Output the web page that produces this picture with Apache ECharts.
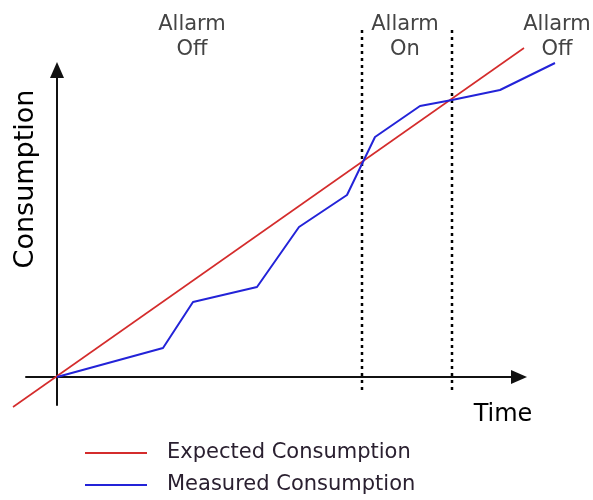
<!DOCTYPE html>
<html>
<head>
<meta charset="utf-8">
<script src="https://cdn.jsdelivr.net/npm/echarts@6/dist/echarts.min.js"></script>
<style>
  html, body { margin: 0; padding: 0; background: #fff; }
  #chart { width: 593px; height: 500px; }
</style>
</head>
<body>
<div id="chart"></div>
<script>
// data (arbitrary units, origin where the axes cross)
const expectedLine = [[-44, -30], [467, 329]]
const measuredLine = [
  [0, 0], [106, 29], [136, 75], [200, 90], [242, 150], [290, 182],
  [318, 240], [363, 271], [395, 277], [443, 287], [498, 314]
]
const alarmSwitchTimes = [305, 395]
const alarmLineRange = [-13, 347]
const phaseLabels = [
  [135, 340, 'Allarm\nOff'],
  [348, 340, 'Allarm\nOn'],
  [500, 340, 'Allarm\nOff']
]
const axisTitles = [
  [446, -38, 'Time', 0, 24],
  [-31, 198, 'Consumption', 90, 27]
]

const font = 'DejaVu Sans'
const chart = echarts.init(document.getElementById('chart'))

// grid 0 only draws the two arrowed axes, grid 1 spans the whole canvas
// with the same units so the lines can run past the axis ends
const hiddenAxis = {
  type: 'value',
  gridIndex: 1,
  axisLine: { show: false },
  axisTick: { show: false },
  axisLabel: { show: false },
  splitLine: { show: false }
}
const arrowAxis = {
  type: 'value',
  gridIndex: 0,
  axisLine: {
    show: true, onZero: true,
    symbol: ['none', 'triangle'], symbolSize: [14, 16],
    lineStyle: { color: '#111', width: 2 }
  },
  axisTick: { show: false },
  axisLabel: { show: false },
  splitLine: { show: false }
}

const alarmSeries = alarmSwitchTimes.map(t => ({
  type: 'line',
  xAxisIndex: 1,
  yAxisIndex: 1,
  data: [[t, alarmLineRange[0]], [t, alarmLineRange[1]]],
  symbol: 'none',
  silent: true,
  lineStyle: { color: '#000', width: 2.5, type: [3, 4] },
  z: 1
}))

const textSeries = (data, color, extra) => ({
  type: 'scatter',
  xAxisIndex: 1,
  yAxisIndex: 1,
  data: data,
  symbolSize: 0,
  silent: true,
  itemStyle: { opacity: 1 },
  label: {
    show: true,
    position: 'inside',
    formatter: p => p.value[2],
    fontFamily: font,
    color: color,
    opacity: 1,
    textBorderWidth: 0,
    align: 'center',
    ...extra
  }
})

chart.setOption({
  animation: false,
  grid: [
    { left: 26, right: 74, top: 70, bottom: 95 },
    { left: 0, right: 0, top: 0, bottom: 0 }
  ],
  legend: {
    data: ['Expected Consumption', 'Measured Consumption'],
    orient: 'vertical',
    left: 80,
    top: 434,
    height: 80,
    icon: 'rect',
    itemWidth: 62,
    itemHeight: 2,
    itemGap: 4,
    textStyle: {
      fontFamily: font, fontSize: 21, lineHeight: 28,
      color: '#2a2030', padding: [0, 0, 0, 15]
    }
  },
  xAxis: [
    { ...arrowAxis, min: -31, max: 462 },
    { ...hiddenAxis, min: -57, max: 536 }
  ],
  yAxis: [
    { ...arrowAxis, min: -28, max: 307 },
    { ...hiddenAxis, min: -123, max: 377 }
  ],
  series: [
    ...alarmSeries,
    {
      name: 'Expected Consumption',
      type: 'line',
      xAxisIndex: 1,
      yAxisIndex: 1,
      data: expectedLine,
      symbol: 'none',
      lineStyle: { color: '#d42c2c', width: 1.6 },
      itemStyle: { color: '#d42c2c' },
      z: 3
    },
    {
      name: 'Measured Consumption',
      type: 'line',
      xAxisIndex: 1,
      yAxisIndex: 1,
      data: measuredLine,
      symbol: 'none',
      lineStyle: { color: '#2323d8', width: 2 },
      itemStyle: { color: '#2323d8' },
      z: 4
    },
    textSeries(phaseLabels, '#444', { fontSize: 21, lineHeight: 25 }),
    textSeries(axisTitles.map(a => ({
      value: [a[0], a[1], a[2]],
      label: { rotate: a[3], fontSize: a[4] }
    })), '#000')
  ]
})
</script>
</body>
</html>
